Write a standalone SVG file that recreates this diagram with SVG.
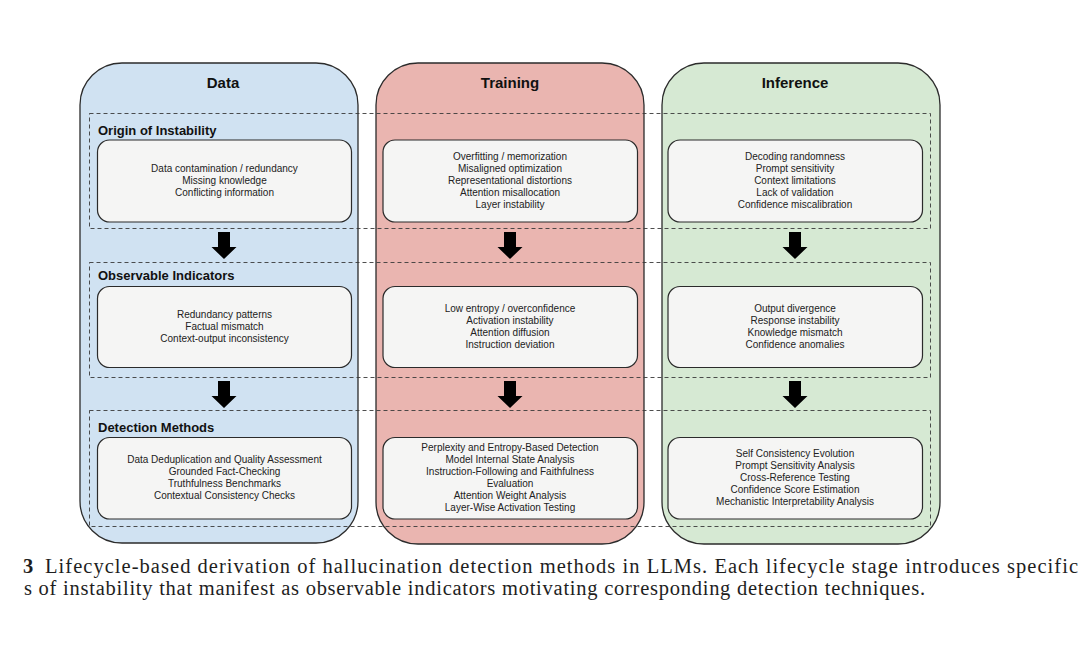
<svg xmlns="http://www.w3.org/2000/svg" width="1080" height="665" viewBox="0 0 1080 665">
<defs>
<style>
.col{stroke:#2b2b2b;stroke-width:1.3}
.hdr{font-family:"Liberation Sans",Arial,sans-serif;font-weight:bold;font-size:15px;fill:#111;text-anchor:middle}
.sec{font-family:"Liberation Sans",Arial,sans-serif;font-weight:bold;font-size:13px;fill:#111}
.box{fill:#f5f5f4;stroke:#2b2b2b;stroke-width:1.2}
.t{font-family:"Liberation Sans",Arial,sans-serif;font-size:10px;fill:#222;text-anchor:middle}
.band{fill:none;stroke:#3a3a3a;stroke-width:0.9;stroke-dasharray:4 3}
.arr{fill:#000}
.cap{font-family:"Liberation Serif","Times New Roman",serif;font-size:20.5px;fill:#1e1e1e}
</style>
<path id="arrow" d="M-6,0 H6 V15 H12.5 L0,27 L-12.5,15 H-6 Z"/>
</defs>
<rect width="1080" height="665" fill="#ffffff"/>

<g id="col-data">
<rect class="col" x="80" y="63" width="278" height="480" rx="42" fill="#d0e2f2"/>
<text class="hdr" x="223" y="88">Data</text>
</g>
<g id="col-training">
<rect class="col" x="376" y="63" width="268" height="481" rx="42" fill="#eab5b0"/>
<text class="hdr" x="510" y="88">Training</text>
</g>
<g id="col-inference">
<rect class="col" x="662" y="63" width="278" height="481" rx="42" fill="#d6e9d3"/>
<text class="hdr" x="795" y="88">Inference</text>
</g>

<g id="band-origin">
<rect class="band" x="89.5" y="113.5" width="841" height="115"/>
<text class="sec" x="98" y="135">Origin of Instability</text>
</g>
<g id="band-indicators">
<rect class="band" x="89.5" y="262.5" width="841" height="115"/>
<text class="sec" x="98" y="280">Observable Indicators</text>
</g>
<g id="band-detection">
<rect class="band" x="89.5" y="410.5" width="841" height="116"/>
<text class="sec" x="98" y="432">Detection Methods</text>
</g>

<g id="data-origin">
<rect class="box" x="97.5" y="140" width="254" height="82" rx="12"/>
<text class="t" x="224.5" y="172">Data contamination / redundancy</text>
<text class="t" x="224.5" y="184">Missing knowledge</text>
<text class="t" x="224.5" y="196">Conflicting information</text>
</g>
<g id="training-origin">
<rect class="box" x="383" y="140" width="254.5" height="82" rx="12"/>
<text class="t" x="510" y="160">Overfitting / memorization</text>
<text class="t" x="510" y="172">Misaligned optimization</text>
<text class="t" x="510" y="184">Representational distortions</text>
<text class="t" x="510" y="196">Attention misallocation</text>
<text class="t" x="510" y="208">Layer instability</text>
</g>
<g id="inference-origin">
<rect class="box" x="668" y="140" width="254.5" height="82" rx="12"/>
<text class="t" x="795" y="160">Decoding randomness</text>
<text class="t" x="795" y="172">Prompt sensitivity</text>
<text class="t" x="795" y="184">Context limitations</text>
<text class="t" x="795" y="196">Lack of validation</text>
<text class="t" x="795" y="208">Confidence miscalibration</text>
</g>

<g id="data-indicators">
<rect class="box" x="97.5" y="286.5" width="254" height="81" rx="12"/>
<text class="t" x="224.5" y="318">Redundancy patterns</text>
<text class="t" x="224.5" y="330">Factual mismatch</text>
<text class="t" x="224.5" y="342">Context-output inconsistency</text>
</g>
<g id="training-indicators">
<rect class="box" x="383" y="286.5" width="254.5" height="81" rx="12"/>
<text class="t" x="510" y="312">Low entropy / overconfidence</text>
<text class="t" x="510" y="324">Activation instability</text>
<text class="t" x="510" y="336">Attention diffusion</text>
<text class="t" x="510" y="348">Instruction deviation</text>
</g>
<g id="inference-indicators">
<rect class="box" x="668" y="286.5" width="254.5" height="81" rx="12"/>
<text class="t" x="795" y="312">Output divergence</text>
<text class="t" x="795" y="324">Response instability</text>
<text class="t" x="795" y="336">Knowledge mismatch</text>
<text class="t" x="795" y="348">Confidence anomalies</text>
</g>

<g id="data-detection">
<rect class="box" x="97.5" y="437.5" width="254" height="81.5" rx="12"/>
<text class="t" x="224.5" y="463">Data Deduplication and Quality Assessment</text>
<text class="t" x="224.5" y="475">Grounded Fact-Checking</text>
<text class="t" x="224.5" y="487">Truthfulness Benchmarks</text>
<text class="t" x="224.5" y="499">Contextual Consistency Checks</text>
</g>
<g id="training-detection">
<rect class="box" x="383" y="437.5" width="254.5" height="81.5" rx="12"/>
<text class="t" x="510" y="451">Perplexity and Entropy-Based Detection</text>
<text class="t" x="510" y="463">Model Internal State Analysis</text>
<text class="t" x="510" y="475">Instruction-Following and Faithfulness</text>
<text class="t" x="510" y="487">Evaluation</text>
<text class="t" x="510" y="499">Attention Weight Analysis</text>
<text class="t" x="510" y="511">Layer-Wise Activation Testing</text>
</g>
<g id="inference-detection">
<rect class="box" x="668" y="437.5" width="254.5" height="81.5" rx="12"/>
<text class="t" x="795" y="457">Self Consistency Evolution</text>
<text class="t" x="795" y="469">Prompt Sensitivity Analysis</text>
<text class="t" x="795" y="481">Cross-Reference Testing</text>
<text class="t" x="795" y="493">Confidence Score Estimation</text>
<text class="t" x="795" y="505">Mechanistic Interpretability Analysis</text>
</g>

<g id="connectors">
<use class="arr" href="#arrow" x="224" y="232"/>
<use class="arr" href="#arrow" x="510" y="232"/>
<use class="arr" href="#arrow" x="795" y="232"/>
<use class="arr" href="#arrow" x="224" y="381"/>
<use class="arr" href="#arrow" x="510" y="381"/>
<use class="arr" href="#arrow" x="795" y="381"/>
</g>

<g id="caption">
<text class="cap" x="23" y="573" font-weight="bold">3</text>
<text class="cap" x="45" y="573" textLength="1033" lengthAdjust="spacing">Lifecycle-based derivation of hallucination detection methods in LLMs. Each lifecycle stage introduces specific</text>
<text class="cap" x="24" y="595" textLength="901" lengthAdjust="spacing">s of instability that manifest as observable indicators motivating corresponding detection techniques.</text>
</g>
</svg>
